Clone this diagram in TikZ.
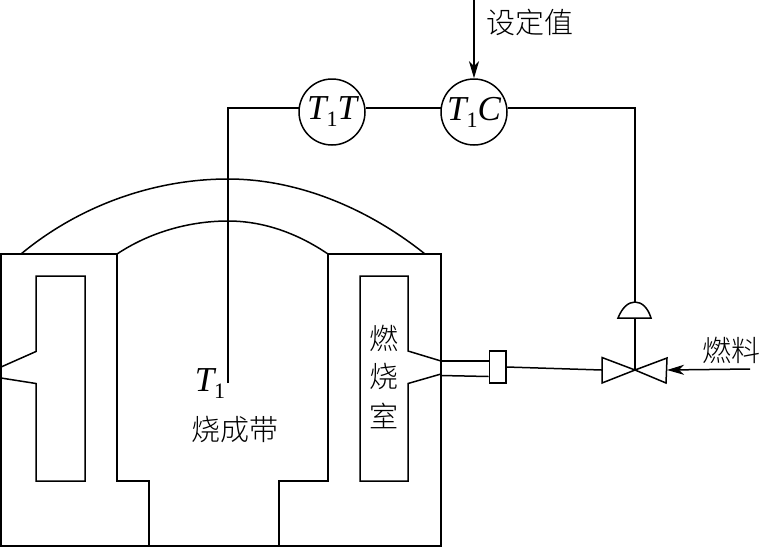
\documentclass[tikz,border=0pt]{standalone}
\usepackage{fontspec}
\setmainfont{Liberation Serif}
\newfontfamily\cjk{Noto Sans CJK SC Light}
\usetikzlibrary{arrows.meta,calc}
\newcommand{\symT}[1]{{\fontsize{35}{35}\selectfont\itshape #1}}
\newcommand{\subone}{\raisebox{-7pt}{\fontsize{22}{22}\selectfont 1}}
\tikzset{
  line/.style={line width=1.5pt,line join=miter},
  inst/.style={circle,draw,line width=1.5pt,minimum size=66pt,inner sep=0pt},
  cjklabel/.style={inner sep=0pt,font=\cjk\fontsize{29}{29}\selectfont},
  mathlabel/.style={inner sep=0pt},
  tipa/.style={-{Stealth[length=17pt,width=10pt,inset=5pt]}}
}
\begin{document}
\begin{tikzpicture}[x=1pt,y=-1pt]
\useasboundingbox (0,0) rectangle (762,547);
% kiln body
\draw[line] (149,546) -- (149,481) -- (117,481) -- (117,254) -- (1,254) -- (1,546) -- (441,546) -- (441,254) -- (328,254) -- (328,481) -- (279,481) -- (279,546);
% crowns
\draw[line] (21,254) .. controls (80,205) and (155,179) .. (228,179) .. controls (300,179) and (370,210) .. (425,254);
\draw[line] (117,254) .. controls (150,232) and (190,221) .. (228,221) .. controls (266,221) and (300,235) .. (328,254);
% left chamber
\draw[line] (1,367) -- (36,351.5) -- (36,276) -- (85,276) -- (85,481) -- (36,481) -- (36,383.5) -- (1,378);
% right chamber
\draw[line] (441,361) -- (408,351) -- (408,276) -- (360,276) -- (360,481) -- (408,481) -- (408,383.5) -- (441,374);
% instruments
\node[inst] (tt) at (332,112) {\symT{T}\subone\symT{T}};
\node[inst] (tc) at (474,112) {\symT{T}\subone\symT{C}};
\coordinate (probe) at (228,383);
\coordinate (setp) at (474,0);
\draw[line] (probe) |- (tt.173);
\draw[line] (tt.7) -- (tc.173);
\draw[line,tipa] (setp) -- (tc.north);
% burner box and pipes
\node[draw,line width=1.5pt,minimum width=16.5pt,minimum height=32pt,inner sep=0pt] (box) at (497.5,367) {};
\coordinate (p1) at (441,361);
\coordinate (p2) at (441,375.5);
\draw[line] (p1) -- (p1 -| box.west);
\draw[line] (p2) -- ($(box.west)+(0,9.5)$);
% valve
\coordinate (v) at (635,370);
\coordinate (vl) at (602,370);
\coordinate (vr) at (667,370);
\draw[line] (v) -- (602,357.5) -- (602,383) -- cycle;
\draw[line] (v) -- (667,358) -- (666,383) -- cycle;
\draw[line] (box.east) -- (vl);
% actuator
\coordinate (domeb) at (635,318);
\draw[line] (618,318) .. controls (622,308) and (628,302) .. (635,302) .. controls (642,302) and (648,308) .. (651,318) -- cycle;
\draw[line] (v) -- (domeb);
\draw[line] (tc.7) -| (635,302);
% fuel
\coordinate (fuel) at (750,369);
\draw[line,tipa] (fuel) -- (vr);
% labels
\node[cjklabel] (sv) at (530,22) {设定值};
\node[cjklabel] (fl) at (731,350) {燃料};
\node[cjklabel] (zone) at (235,430) {烧成带};
\node[cjklabel] (c1) at (384,338) {燃};
\node[cjklabel] (c2) at (384,376) {烧};
\node[cjklabel] (c3) at (384,416) {室};
\node[mathlabel] (t1) at (210,384) {\symT{T}\subone};
\end{tikzpicture}
\end{document}
